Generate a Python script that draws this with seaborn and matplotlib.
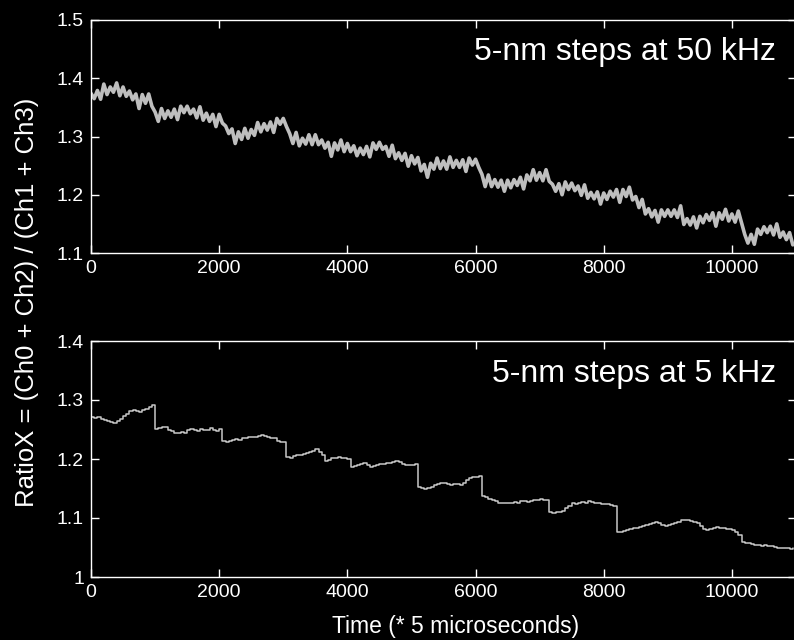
import numpy as np
import pandas as pd
import matplotlib
matplotlib.use("Agg")
import matplotlib.pyplot as plt
import seaborn as sns

step = 50
top_values = [
    1.374, 1.365, 1.379, 1.364, 1.390, 1.372, 1.385, 1.376, 1.392, 1.370,
    1.385, 1.369, 1.378, 1.363, 1.373, 1.348, 1.372, 1.357, 1.373, 1.352,
    1.342, 1.326, 1.348, 1.331, 1.344, 1.333, 1.347, 1.329, 1.352, 1.341,
    1.352, 1.339, 1.347, 1.332, 1.351, 1.328, 1.340, 1.326, 1.338, 1.317,
    1.338, 1.323, 1.318, 1.305, 1.313, 1.288, 1.308, 1.295, 1.314, 1.297,
    1.312, 1.302, 1.324, 1.308, 1.322, 1.311, 1.325, 1.307, 1.331, 1.321,
    1.331, 1.317, 1.305, 1.288, 1.307, 1.284, 1.297, 1.287, 1.303, 1.286,
    1.303, 1.286, 1.294, 1.280, 1.290, 1.266, 1.289, 1.277, 1.294, 1.274,
    1.288, 1.274, 1.284, 1.267, 1.280, 1.269, 1.283, 1.265, 1.289, 1.278,
    1.290, 1.278, 1.283, 1.266, 1.285, 1.262, 1.272, 1.259, 1.271, 1.249,
    1.267, 1.253, 1.264, 1.241, 1.252, 1.230, 1.254, 1.244, 1.263, 1.245,
    1.258, 1.244, 1.265, 1.247, 1.259, 1.247, 1.260, 1.240, 1.263, 1.251,
    1.261, 1.247, 1.235, 1.214, 1.234, 1.214, 1.226, 1.213, 1.225, 1.206,
    1.225, 1.212, 1.226, 1.216, 1.230, 1.210, 1.234, 1.224, 1.243, 1.225,
    1.238, 1.224, 1.243, 1.223, 1.218, 1.206, 1.219, 1.200, 1.222, 1.209,
    1.220, 1.207, 1.215, 1.199, 1.217, 1.194, 1.204, 1.193, 1.205, 1.184,
    1.203, 1.192, 1.206, 1.196, 1.209, 1.187, 1.209, 1.197, 1.213, 1.191,
    1.197, 1.178, 1.192, 1.167, 1.176, 1.162, 1.173, 1.153, 1.174, 1.163,
    1.174, 1.163, 1.174, 1.161, 1.181, 1.149, 1.159, 1.148, 1.162, 1.143,
    1.163, 1.152, 1.166, 1.156, 1.169, 1.146, 1.169, 1.158, 1.175, 1.155,
    1.167, 1.153, 1.172, 1.152, 1.132, 1.117, 1.132, 1.115, 1.141, 1.132,
    1.145, 1.135, 1.146, 1.131, 1.150, 1.127, 1.136, 1.123, 1.135, 1.114,
]
bottom_values = [
    1.271, 1.270, 1.272, 1.268, 1.266, 1.264, 1.262, 1.261, 1.264, 1.268,
    1.273, 1.277, 1.281, 1.283, 1.282, 1.280, 1.283, 1.285, 1.288, 1.292,
    1.251, 1.252, 1.255, 1.254, 1.250, 1.247, 1.244, 1.244, 1.245, 1.244,
    1.249, 1.251, 1.250, 1.248, 1.251, 1.250, 1.249, 1.252, 1.250, 1.247,
    1.251, 1.230, 1.229, 1.231, 1.233, 1.234, 1.232, 1.235, 1.236, 1.237,
    1.238, 1.238, 1.239, 1.240, 1.239, 1.238, 1.236, 1.235, 1.231, 1.229,
    1.229, 1.203, 1.202, 1.205, 1.207, 1.206, 1.208, 1.210, 1.212, 1.214,
    1.217, 1.212, 1.206, 1.196, 1.198, 1.201, 1.202, 1.203, 1.201, 1.202,
    1.200, 1.187, 1.188, 1.190, 1.192, 1.193, 1.190, 1.187, 1.188, 1.190,
    1.191, 1.192, 1.193, 1.194, 1.195, 1.196, 1.195, 1.192, 1.190, 1.189,
    1.190, 1.192, 1.153, 1.151, 1.150, 1.151, 1.153, 1.156, 1.158, 1.160,
    1.159, 1.157, 1.156, 1.157, 1.158, 1.156, 1.160, 1.164, 1.167, 1.169,
    1.170, 1.172, 1.138, 1.136, 1.133, 1.130, 1.128, 1.126, 1.125, 1.125,
    1.126, 1.125, 1.127, 1.126, 1.128, 1.129, 1.127, 1.129, 1.131, 1.130,
    1.133, 1.131, 1.130, 1.110, 1.109, 1.111, 1.110, 1.112, 1.117, 1.121,
    1.125, 1.124, 1.126, 1.127, 1.125, 1.128, 1.127, 1.126, 1.125, 1.124,
    1.124, 1.123, 1.122, 1.121, 1.077, 1.076, 1.078, 1.080, 1.082, 1.083,
    1.083, 1.084, 1.086, 1.088, 1.090, 1.092, 1.093, 1.091, 1.088, 1.086,
    1.088, 1.090, 1.092, 1.094, 1.096, 1.097, 1.096, 1.095, 1.093, 1.091,
    1.086, 1.082, 1.080, 1.081, 1.083, 1.084, 1.083, 1.083, 1.082, 1.081,
    1.080, 1.076, 1.072, 1.060, 1.058, 1.057, 1.056, 1.055, 1.054, 1.053,
    1.054, 1.053, 1.052, 1.051, 1.050, 1.050, 1.049, 1.049, 1.048, 1.049,
]
time_top = [i * step for i in range(len(top_values))]
time_bottom = [i * step for i in range(len(bottom_values))]

x_ticks = [0, 2000, 4000, 6000, 8000, 10000]
top_yticks = [1.1, 1.2, 1.3, 1.4, 1.5]
bottom_yticks = [1.0, 1.1, 1.2, 1.3, 1.4]
top_label = "5-nm steps at 50 kHz"
bottom_label = "5-nm steps at 5 kHz"
y_label = "RatioX = (Ch0 + Ch2) / (Ch1 + Ch3)"
x_label = "Time (* 5 microseconds)"

# ---------------- style ----------------
sns.set_theme(style="dark", rc={
    "axes.facecolor": "black",
    "figure.facecolor": "black",
    "axes.edgecolor": "white",
    "axes.labelcolor": "white",
    "xtick.color": "white",
    "ytick.color": "white",
    "text.color": "white",
    "axes.grid": False,
})
plt.rcParams["font.family"] = ["Liberation Sans", "DejaVu Sans"]

W, H = 794, 640
fig = plt.figure(figsize=(W / 100, H / 100), dpi=100)

def px_axes(left, top, right, bottom):
    return fig.add_axes([left / W, 1 - bottom / H, (right - left) / W, (bottom - top) / H])

ax1 = px_axes(91, 20, 796, 253)
ax2 = px_axes(91, 341, 796, 577)

df_top = pd.DataFrame({"t": time_top, "r": top_values})
df_bot = pd.DataFrame({"t": time_bottom, "r": bottom_values})

sns.lineplot(data=df_top, x="t", y="r", ax=ax1, color="#bebebe", linewidth=2.6)
sns.lineplot(data=df_bot, x="t", y="r", ax=ax2, color="#c8c8c8", linewidth=1.1,
             drawstyle="steps-post")

for ax, yt, lab in [(ax1, top_yticks, top_label), (ax2, bottom_yticks, bottom_label)]:
    ax.set_xlim(0, 11000)
    ax.set_ylim(yt[0], yt[-1])
    ax.set_xticks(x_ticks)
    ax.set_xticklabels([str(v) for v in x_ticks])
    ax.set_yticks(yt)
    ax.set_yticklabels([f"{v:g}" for v in yt])
    ax.tick_params(direction="in", length=6, width=1, top=True, right=True,
                   bottom=True, left=True, labelsize=14, pad=5, colors="white")
    for s in ax.spines.values():
        s.set_color("white")
        s.set_linewidth(1.0)
        s.set_visible(True)
    ax.set_xlabel("")
    ax.set_ylabel("")
    ax.text(0.9716, 0.828, lab, transform=ax.transAxes, ha="right", va="baseline",
            fontsize=23, color="white")

fig.text(456 / W, 1 - 627 / H, x_label, ha="center", va="center",
         fontsize=16.5, color="white")
fig.text(27 / W, 1 - 302 / H, y_label, rotation=90, ha="center", va="center",
         fontsize=18.5, color="white")

fig.savefig("out.png", dpi=100, facecolor="black")
